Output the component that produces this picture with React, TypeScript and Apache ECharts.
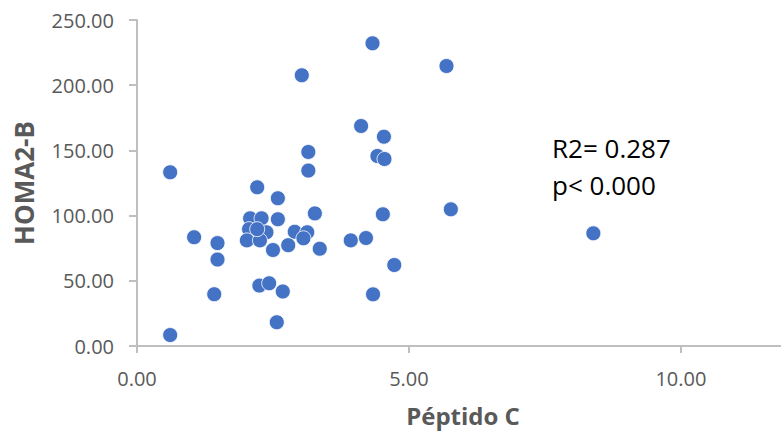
import React, { useEffect, useRef } from "react";
import * as echarts from "echarts";

const peptidoC: number[] = [
  0.61, 0.61, 1.05, 1.48, 1.48, 1.42, 2.21, 2.59, 3.27, 2.08, 2.29, 2.59, 2.06, 2.38, 2.02, 2.26,
  2.9, 3.13, 3.06, 2.5, 2.78, 3.36, 2.25, 2.43, 2.68, 2.57, 4.52, 3.93, 4.21, 4.73, 4.34, 5.77,
  3.03, 4.12, 4.54, 4.42, 4.55, 3.15, 3.15, 4.33, 5.69, 8.39, 2.21,
];
const homa2B: number[] = [
  133.2, 8.4, 83.4, 78.9, 66.3, 39.7, 121.7, 113.3, 101.7, 97.9, 97.9, 97.2, 89.6, 87.2, 81.0, 81.0,
  87.6, 87.2, 82.6, 73.6, 77.3, 74.6, 46.3, 48.1, 41.8, 18.2, 101.0, 81.0, 82.8, 62.1, 39.6, 104.8,
  207.6, 168.7, 160.5, 145.7, 143.4, 148.8, 134.5, 232.1, 214.7, 86.4, 89.6,
];
const xTitle = "Péptido C";
const yTitle = "HOMA2-B";
const annotationLines: string[] = ["R2= 0.287", "p< 0.000"];

export default function App() {
  const ref = useRef<HTMLDivElement>(null);
  useEffect(() => {
    document.body.style.margin = "0";
    if (!ref.current) return;
    const chart = echarts.init(ref.current, undefined, { renderer: "svg" });
    const font = "'Open Sans', 'Noto Sans', sans-serif";
    const axisLine = { show: true, lineStyle: { color: "#BFBFBF", width: 2 } };
    chart.setOption({
      animation: false,
      backgroundColor: "#ffffff",
      grid: { left: 137, right: 0, top: 20, bottom: 94, containLabel: false, outerBoundsMode: "none" },
      xAxis: {
        type: "value",
        min: 0,
        max: 11.84,
        interval: 5,
        name: xTitle,
        nameLocation: "middle",
        nameGap: 57,
        nameTextStyle: { color: "#595959", fontSize: 24, fontWeight: "bold", fontFamily: font, padding: [0, 0, 0, 8] },
        axisLine,
        axisTick: { show: true, length: 7, lineStyle: { color: "#BFBFBF", width: 2 } },
        axisLabel: {
          color: "#595959",
          fontSize: 20,
          fontFamily: font,
          margin: 22,
          showMaxLabel: false,
          formatter: (v: number) => v.toFixed(2),
        },
        splitLine: { show: false },
      },
      yAxis: {
        type: "value",
        min: 0,
        max: 250,
        interval: 50,
        name: yTitle,
        nameLocation: "middle",
        nameGap: 100,
        nameTextStyle: { color: "#595959", fontSize: 26, fontWeight: "bold", fontFamily: font },
        axisLine,
        axisTick: { show: true, length: 8, lineStyle: { color: "#BFBFBF", width: 2 } },
        axisLabel: {
          color: "#595959",
          fontSize: 20,
          fontFamily: font,
          margin: 23,
          formatter: (v: number) => v.toFixed(2),
        },
        splitLine: { show: false },
      },
      graphic: [
        {
          type: "text",
          left: 552,
          top: 129,
          style: {
            text: annotationLines.join("\n"),
            fill: "#000000",
            font: `26px ${font}`,
            lineHeight: 37,
          },
        },
      ],
      series: [
        {
          type: "scatter",
          symbol: "circle",
          symbolSize: 15,
          data: peptidoC.map((x, i) => [x, homa2B[i]]),
          itemStyle: { color: "#4472C4", opacity: 1, borderColor: "#ffffff", borderWidth: 0.8 },
        },
      ],
    });
    return () => chart.dispose();
  }, []);
  return <div ref={ref} style={{ width: 781, height: 440 }} />;
}
